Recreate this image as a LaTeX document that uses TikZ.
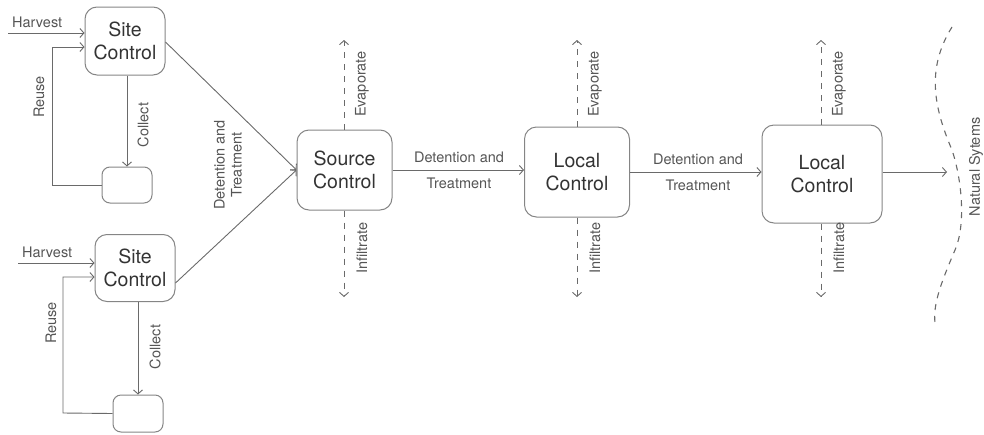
\documentclass[tikz,border=0pt]{standalone}
\usepackage{fontspec}
\setmainfont{TeX Gyre Heros}
\usetikzlibrary{arrows.meta}
\definecolor{ln}{HTML}{6A6A6A}
\definecolor{bx}{HTML}{858585}
\definecolor{tx}{HTML}{333333}
\definecolor{lb}{HTML}{555555}
\begin{document}
\begin{tikzpicture}[x=1pt,y=-1pt,
  box/.style={draw=bx,line width=1pt,rounded corners=12pt,align=center,text=tx,
    font=\fontsize{19.5}{23}\selectfont,inner sep=0pt},
  flow/.style={draw=ln,line width=0.9pt,-{Straight Barb[length=4pt,width=9pt]}},
  dflow/.style={draw=ln,line width=0.9pt,dash pattern=on 6pt off 6pt,-{Straight Barb[length=4pt,width=9pt]}},
  lab/.style={text=lb,font=\fontsize{14.5}{20}\selectfont,align=center,inner sep=0pt},
  vlab/.style={lab,rotate=90}]
\useasboundingbox (0,0) rectangle (984,434);
% upper site group
\node[box,minimum width=80pt,minimum height=68pt] (s1) at (125,41) {Site\\Control};
\node[box,minimum width=50pt,minimum height=36pt,rounded corners=8pt] (t1) at (127,185) {};
\coordinate (h1) at (8,33);
\draw[flow] (h1) -- (s1.west |- h1);
\node[lab,anchor=south west] (hl1) at (12,28) {Harvest};
\draw[flow] (s1.south -| t1.north) -- (t1.north);
\coordinate (r1) at (52,185);
\draw[flow] (t1.west) -- (r1) -- (r1 |- 0,47) -- (s1.west |- 0,47);
\node[vlab] (rl1) at (39,97) {Reuse};
\node[vlab] (cl1) at (143,125) {Collect};
% lower site group
\node[box,minimum width=80pt,minimum height=67pt] (s2) at (135,268) {Site\\Control};
\node[box,minimum width=50pt,minimum height=37pt,rounded corners=8pt] (t2) at (138,413.5) {};
\coordinate (h2) at (18,263);
\draw[flow] (h2) -- (s2.west |- h2);
\node[lab,anchor=south west] (hl2) at (22,258) {Harvest};
\draw[flow] (s2.south -| t2.north) -- (t2.north);
\coordinate (r2) at (63,413);
\draw[flow] (t2.west) -- (r2) -- (r2 |- 0,277) -- (s2.west |- 0,277);
\node[vlab] (rl2) at (51,323) {Reuse};
\node[vlab] (cl2) at (155,347) {Collect};
% source control
\node[box,minimum width=95pt,minimum height=80pt] (sc) at (344.5,170) {Source\\Control};
\draw[flow] (s1.east |- 0,42) -- (sc.west);
\draw[flow] (s2.east |- 0,283) -- (sc.west);
\node[vlab,font=\fontsize{14.5}{17}\selectfont] (dl0) at (228,165) {Detention and\\Treatment};
% local controls
\node[box,minimum width=105pt,minimum height=90pt] (l1) at (577,172) {Local\\Control};
\node[box,minimum width=120pt,minimum height=98pt] (l2) at (822,174) {Local\\Control};
\draw[flow] (sc.east |- 0,170) -- (l1.west |- 0,170);
\node[lab,font=\fontsize{14.5}{26}\selectfont] (dl1) at (459,170) {Detention and\\Treatment};
\draw[flow] (l1.east |- 0,172) -- (l2.west |- 0,172);
\node[lab,font=\fontsize{14.5}{26}\selectfont] (dl2) at (698,172) {Detention and\\Treatment};
% evaporate / infiltrate
\foreach \n/\x in {sc/344,l1/577,l2/821}{
  \coordinate (\n-up) at (\x,40);
  \coordinate (\n-dn) at (\x,297);
  \draw[dflow] (\n.north -| \n-up) -- (\n-up);
  \draw[dflow] (\n.south -| \n-dn) -- (\n-dn);
  \node[vlab] at (\x+18,84) {Evaporate};
  \node[vlab] at (\x+18,248) {Infiltrate};
}
% natural systems
\coordinate (ns) at (947,172);
\draw[flow] (l2.east |- ns) -- (ns);
\draw[draw=ln,line width=1.1pt,dash pattern=on 6pt off 6pt]
  (952,27) .. controls (925,70) and (935,110) .. (952,150)
  .. controls (962,180) and (966,225) .. (955,250)
  .. controls (940,285) and (933,305) .. (935,323);
\node[vlab] (nl) at (976,167) {Natural Sytems};
\end{tikzpicture}
\end{document}
